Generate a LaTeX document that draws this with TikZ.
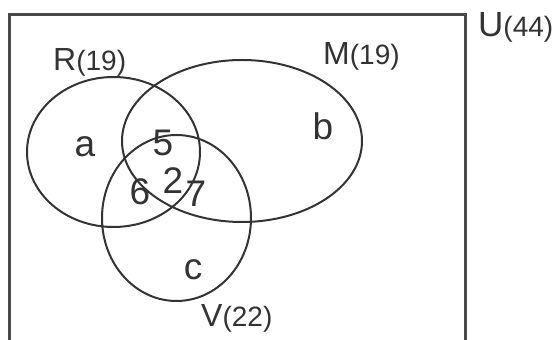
\documentclass[tikz,border=0pt]{standalone}
\usepackage{fontspec}
\setmainfont{Liberation Sans}
\definecolor{linegray}{HTML}{333333}
\definecolor{boxgray}{HTML}{4A4A4A}
\newcommand{\setletter}[1]{\fontsize{32}{32}\selectfont #1}
\newcommand{\cnt}[1]{\fontsize{28}{28}\selectfont (#1)}
\begin{document}
\begin{tikzpicture}[x=1pt,y=1pt,
	set/.style={line width=2pt,draw=linegray},
	region/.style={font=\fontsize{37}{37}\selectfont,text=linegray,inner sep=0pt},
	setname/.style={anchor=base west,text=linegray,inner sep=0pt}]
	\useasboundingbox (0,0) rectangle (560,340);
	% universe
	\draw[line width=3pt,boxgray] (9,-5) |- (465,325) -- (465,-5);
	\node[setname] (U) at (478,303) {\fontsize{35}{35}\selectfont U\cnt{44}};
	% the three sets
	\draw[set] (113.5,188) ellipse [x radius=86.5,y radius=75];
	\draw[set] (242,199) ellipse [x radius=120,y radius=81];
	\draw[set] (176.5,122) ellipse [x radius=74.5,y radius=83];
	\node[setname] (R) at (53,269) {\setletter{R}\cnt{19}};
	\node[setname] (M) at (323,275) {\setletter{M}\cnt{19}};
	\node[setname] (V) at (201,13) {\setletter{V}\cnt{22}};
	% regions
	\node[region] (a) at (85,193) {a};
	\node[region] (b) at (323,214) {b};
	\node[region] (c) at (193,70) {c};
	\node[region] (RM) at (163,197) {5};
	\node[region] (RV) at (140,148) {6};
	\node[region] (RMV) at (173,159) {2};
	\node[region] (MV) at (196,146) {7};
\end{tikzpicture}
\end{document}
